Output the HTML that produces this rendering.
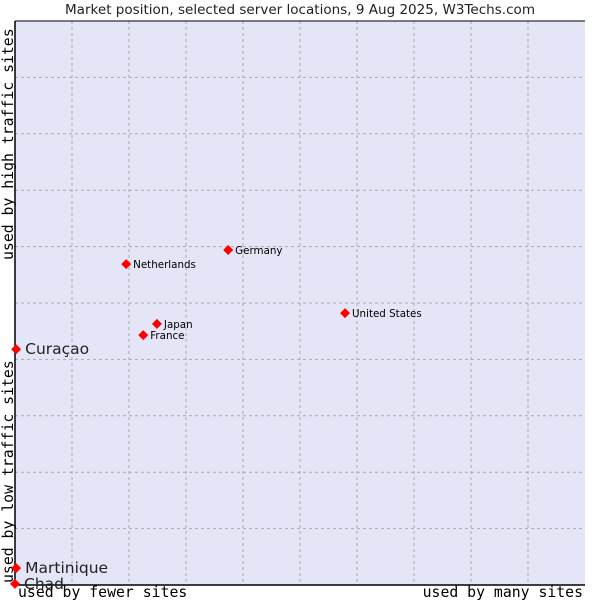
<!DOCTYPE html>
<html><head><meta charset="utf-8"><style>body{margin:0;background:#fff}svg{display:block}</style></head>
<body>
<svg id="chart" width="600" height="600" xmlns="http://www.w3.org/2000/svg" font-family="DejaVu Sans, sans-serif">
<text x="300" y="14" text-anchor="middle" font-size="13" textLength="470" lengthAdjust="spacingAndGlyphs" fill="#222">Market position, selected server locations, 9 Aug 2025, W3Techs.com</text>
<rect x="15" y="21" width="570" height="564" fill="#e4e6f8"/>
<g id="grid"></g>
<line x1="15" y1="21" x2="15" y2="585" stroke="#000" stroke-width="1.5"/>
<line x1="15" y1="585" x2="585" y2="585" stroke="#000" stroke-width="1.5"/>
<line x1="15" y1="21" x2="585" y2="21" stroke="#000"/>
<text x="18" y="597" font-family="DejaVu Sans Mono, monospace" font-size="14.8">used by fewer sites</text>
<text x="583" y="597" text-anchor="end" font-family="DejaVu Sans Mono, monospace" font-size="14.8">used by many sites</text>
<text transform="translate(13,583) rotate(-90)" font-family="DejaVu Sans Mono, monospace" font-size="14.8">used by low traffic sites</text>
<text transform="translate(13,260) rotate(-90)" font-family="DejaVu Sans Mono, monospace" font-size="14.8">used by high traffic sites</text>
<g id="points"></g>
</svg>
<script>
const names=["Curaçao","Martinique","Chad","Netherlands","Germany","Japan","France","United States"];
const xVals=[0.2,0.2,0,19.5,37.4,24.9,22.5,57.9];
const yVals=[41.8,3.0,0.2,56.9,59.4,46.3,44.3,48.2];
const big=[true,true,true,false,false,false,false,false];
const NS="http://www.w3.org/2000/svg";
const X=v=>15+v*5.7, Y=v=>585-v*5.64;
const grid=document.getElementById('grid');
for(let i=1;i<10;i++){
 const a=document.createElementNS(NS,'line');
 
 
 a.setAttribute('x1',X(i*10));a.setAttribute('x2',X(i*10));a.setAttribute('y1',21);a.setAttribute('y2',585);
 a.setAttribute('stroke','#aaa');a.setAttribute('stroke-dasharray','3,3');grid.appendChild(a);
 const b=document.createElementNS(NS,'line');
 
 
 b.setAttribute('x1',15);b.setAttribute('x2',585);b.setAttribute('y1',Y(i*10));b.setAttribute('y2',Y(i*10));
 b.setAttribute('stroke','#aaa');b.setAttribute('stroke-dasharray','3,3');grid.appendChild(b);
}
const pts=document.getElementById('points');
names.forEach((n,i)=>{
 const x=X(xVals[i]),y=Y(yVals[i]);
 const g=document.createElementNS(NS,'g');
 
 
 const p=document.createElementNS(NS,'polygon');
 p.setAttribute('points',`${x},${y-5} ${x+5},${y} ${x},${y+5} ${x-5},${y}`);
 p.setAttribute('fill','#f00');g.appendChild(p);
 const t=document.createElementNS(NS,'text');
 t.setAttribute('x',x+(big[i]?9:7));t.setAttribute('y',y+(big[i]?5:4));
 t.setAttribute('font-size',big[i]?15.5:10.3);t.setAttribute('fill',big[i]?'#222':'#000');
 t.textContent=n;g.appendChild(t);pts.appendChild(g);
});
</script>
</body></html>
